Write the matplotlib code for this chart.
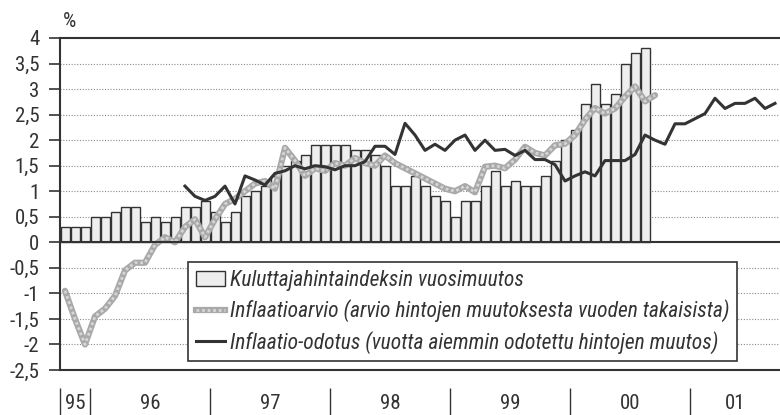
import numpy as np
import matplotlib.pyplot as plt
from matplotlib import font_manager
from matplotlib.patches import Patch
from matplotlib.lines import Line2D
from matplotlib.legend_handler import HandlerTuple

nimet = sorted({f.name for f in font_manager.fontManager.ttflist})
ehdokkaat = ['Roboto Condensed', 'Liberation Sans Narrow', 'DejaVu Sans Condensed', 'Open Sans Condensed',
             'Liberation Sans', 'DejaVu Sans']
plt.rcParams['font.family'] = [n for n in ehdokkaat if n in nimet]

# kuukaudet, 0 = lokakuu 1995
kuluttajahinnat = [0.3, 0.3, 0.3, 0.5, 0.5, 0.6, 0.7, 0.7, 0.4, 0.5,
                   0.4, 0.5, 0.7, 0.7, 0.8, 0.6, 0.4, 0.6, 0.9, 1.0,
                   1.1, 1.3, 1.5, 1.6, 1.7, 1.9, 1.9, 1.9, 1.9, 1.8,
                   1.8, 1.7, 1.5, 1.1, 1.1, 1.3, 1.1, 0.9, 0.8, 0.5,
                   0.8, 0.8, 1.1, 1.4, 1.1, 1.2, 1.1, 1.1, 1.3, 1.6,
                   2.0, 2.2, 2.7, 3.1, 2.7, 2.9, 3.5, 3.7, 3.8]
inflaatioarvio = [-0.95, -1.5, -2.0, -1.45, -1.3, -1.05, -0.55, -0.4, -0.4, -0.05,
                  0.1, 0.0, 0.3, 0.45, 0.1, 0.45, 0.75, 0.85, 1.0, 1.15,
                  1.2, 1.05, 1.85, 1.6, 1.3, 1.45, 1.4, 1.55, 1.5, 1.65,
                  1.55, 1.5, 1.7, 1.55, 1.45, 1.35, 1.25, 1.15, 1.05, 1.0,
                  1.1, 0.98, 1.48, 1.5, 1.45, 1.62, 1.87, 1.75, 1.7, 1.9,
                  1.93, 2.1, 2.4, 2.63, 2.52, 2.62, 2.85, 3.05, 2.76, 2.88]
odotus_alku = 12
inflaatio_odotus = [1.1, 0.9, 0.82, 0.9, 1.1, 0.75, 1.3, 1.22, 1.12, 1.35,
                    1.4, 1.5, 1.44, 1.5, 1.48, 1.42, 1.5, 1.5, 1.58, 1.88,
                    1.88, 1.72, 2.33, 2.1, 1.8, 1.92, 1.8, 2.0, 2.1, 1.8,
                    2.0, 1.8, 1.82, 1.7, 1.8, 1.62, 1.62, 1.52, 1.2, 1.3,
                    1.38, 1.3, 1.6, 1.6, 1.6, 1.72, 2.1, 2.0, 1.92, 2.32,
                    2.32, 2.42, 2.52, 2.82, 2.62, 2.72, 2.72, 2.82, 2.62, 2.72]
vuodet = ['95', '96', '97', '98', '99', '00', '01']
kuukausia = [3, 12, 12, 12, 12, 12, 9]

selitteet = ['Kuluttajahintaindeksin vuosimuutos',
             'Inflaatioarvio (arvio hintojen muutoksesta vuoden takaisista)',
             'Inflaatio-odotus (vuotta aiemmin odotettu hintojen muutos)']

tumma = '#333333'
harmaa = '#a9a9a9'

fig = plt.figure(figsize=(7.8, 4.15), dpi=100)
ax = fig.add_axes([60/780, 45/415, 720/780, 332/415])

x_kh = np.arange(len(kuluttajahinnat))
x_ia = np.arange(len(inflaatioarvio))
x_io = np.arange(len(inflaatio_odotus)) + odotus_alku

ax.bar(x_kh, kuluttajahinnat, width=0.9, color='#eeeeee', edgecolor=tumma, linewidth=1.0, zorder=2)
ax.plot(x_ia, inflaatioarvio, color=harmaa, lw=4.5, solid_capstyle='round', solid_joinstyle='round', zorder=3)
ax.plot(x_ia, inflaatioarvio, color='#d6d6d6', lw=2, ls=(0, (1, 1)), zorder=3)
ax.plot(x_io, inflaatio_odotus, color=tumma, lw=2.2, zorder=4)
ax.axhline(0, color=tumma, lw=1.5, zorder=5)

rajat = np.concatenate([[0], np.cumsum(kuukausia)]) - 0.5
ax.set_xlim(rajat[0], rajat[-1])
ax.set_ylim(-2.5, 4)

yt = np.arange(-2.5, 4.01, 0.5)
ax.set_yticks(yt)
ax.set_yticklabels([f'{v:g}'.replace('.', ',') for v in yt], fontsize=15, color=tumma)
ax.tick_params(axis='y', direction='out', length=8, width=1.2, color=tumma, pad=7)
ax.set_xticks([])
for v in yt[1:-1]:
    if v != 0:
        ax.axhline(v, color='#8a8a8a', lw=0.8, ls=(0, (1, 1.5)), zorder=1)

for s in ['left', 'top', 'bottom']:
    ax.spines[s].set_color(tumma)
    ax.spines[s].set_linewidth(1.5)
ax.spines['right'].set_visible(False)

# vuodet akselin alle
tr = ax.get_xaxis_transform()
ax.vlines(rajat[:-1], -0.054, -0.14, transform=tr, color=tumma, lw=1, clip_on=False)
for i, v in enumerate(vuodet):
    ax.text((rajat[i] + rajat[i + 1]) / 2, -0.10, v, transform=tr, ha='center', va='center',
            fontsize=15, color=tumma)

ax.text(0.0125, 1.05, '%', transform=ax.transAxes, ha='center', va='center', fontsize=15, color=tumma)

kahvat = [Patch(facecolor='#eeeeee', edgecolor=tumma, linewidth=1.0),
          (Line2D([], [], color=harmaa, lw=4.5), Line2D([], [], color='#d6d6d6', lw=2, ls=(0, (1, 1)))),
          Line2D([], [], color=tumma, lw=2.2)]
leg = ax.legend(kahvat, selitteet, handler_map={tuple: HandlerTuple(ndivide=1)},
                loc='upper left', bbox_to_anchor=(0.178, 0.325), fancybox=False,
                framealpha=1, edgecolor=tumma, handlelength=1.35, handletextpad=0.25,
                labelspacing=0.4, borderpad=0.35, borderaxespad=0,
                prop={'style': 'italic', 'size': 15.5})
leg.get_frame().set_linewidth(1.2)
for t in leg.get_texts():
    t.set_color(tumma)

fig.savefig('out.png', dpi=100)
